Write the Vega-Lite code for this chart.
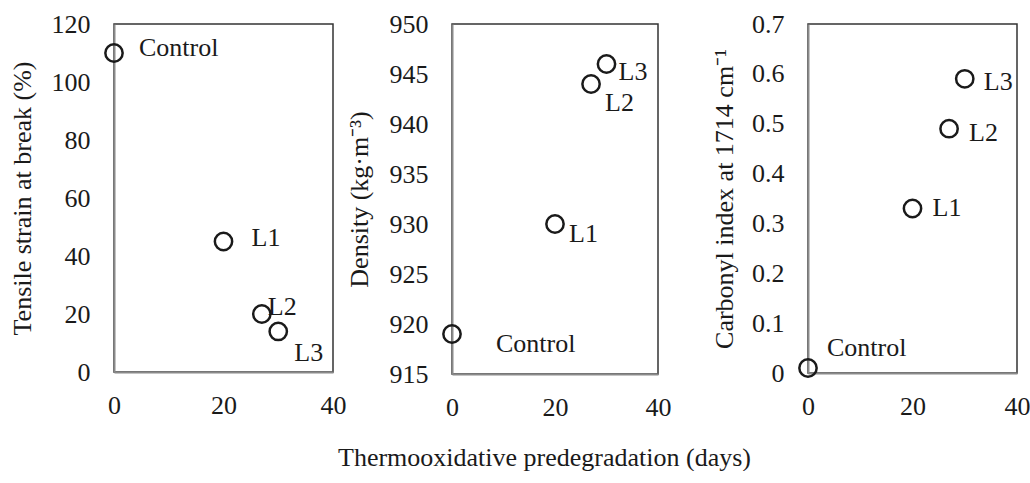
{
  "$schema": "https://vega.github.io/schema/vega-lite/v6.json",
  "padding": {"left": 8, "top": 10, "right": 0, "bottom": 0},
  "background": "white",
  "datasets": {
    "pts": [
      {"panel": "A", "label": "Control", "days": 0, "value": 110},
      {"panel": "A", "label": "L1", "days": 20, "value": 45},
      {"panel": "A", "label": "L2", "days": 27, "value": 20},
      {"panel": "A", "label": "L3", "days": 30, "value": 14},
      {"panel": "B", "label": "Control", "days": 0, "value": 919},
      {"panel": "B", "label": "L1", "days": 20, "value": 930},
      {"panel": "B", "label": "L2", "days": 27, "value": 944},
      {"panel": "B", "label": "L3", "days": 30, "value": 946},
      {"panel": "C", "label": "Control", "days": 0, "value": 0.01},
      {"panel": "C", "label": "L1", "days": 20, "value": 0.33},
      {"panel": "C", "label": "L2", "days": 27, "value": 0.49},
      {"panel": "C", "label": "L3", "days": 30, "value": 0.59}
    ],
    "one": [{"k": 1}]
  },
  "title": {
    "text": "Thermooxidative predegradation (days)",
    "orient": "bottom",
    "anchor": "middle",
    "font": "Liberation Serif",
    "fontSize": 26,
    "fontWeight": "normal",
    "color": "#1a1a1a",
    "offset": 24,
    "dx": 25
  },
  "spacing": -2,
  "hconcat": [
    {
      "width": 219,
      "height": 348,
      "data": {"name": "pts"},
      "transform": [{"filter": "datum.panel === 'A'"}],
      "encoding": {
        "x": {"field": "days", "type": "quantitative", "scale": {"domain": [0, 40]}, "axis": {"title": null, "values": [0, 20, 40], "labelPadding": 20, "labelFlush": false, "labelFont": "Liberation Serif", "labelFontSize": 26}},
        "y": {"field": "value", "type": "quantitative", "scale": {"domain": [0, 120]}, "axis": {"title": "Tensile strain at break (%)", "titlePadding": 16, "values": [0, 20, 40, 60, 80, 100, 120], "labelFont": "Liberation Serif", "titleFont": "Liberation Serif", "labelFontSize": 26, "titleFontSize": 26}}
      },
      "layer": [
        {"mark": {"type": "point", "shape": "circle", "size": 300, "strokeWidth": 2.5, "color": "#1a1a1a", "filled": false, "opacity": 1}},
        {"transform": [{"filter": "datum.label === 'Control'"}], "mark": {"type": "text", "font": "Liberation Serif", "fontSize": 26, "color": "#1a1a1a", "align": "left", "baseline": "middle", "dx": 25, "dy": -5}, "encoding": {"text": {"field": "label"}}},
        {"transform": [{"filter": "datum.label === 'L1'"}], "mark": {"type": "text", "font": "Liberation Serif", "fontSize": 26, "color": "#1a1a1a", "align": "left", "baseline": "middle", "dx": 28, "dy": -4}, "encoding": {"text": {"field": "label"}}},
        {"transform": [{"filter": "datum.label === 'L2'"}], "mark": {"type": "text", "font": "Liberation Serif", "fontSize": 26, "color": "#1a1a1a", "align": "left", "baseline": "middle", "dx": 6, "dy": -7}, "encoding": {"text": {"field": "label"}}},
        {"transform": [{"filter": "datum.label === 'L3'"}], "mark": {"type": "text", "font": "Liberation Serif", "fontSize": 26, "color": "#1a1a1a", "align": "left", "baseline": "middle", "dx": 16, "dy": 22}, "encoding": {"text": {"field": "label"}}},
        {"data": {"name": "one"}, "transform": [], "mark": {"type": "text", "font": "Liberation Serif", "fontSize": 26, "color": "#1a1a1a", "text": "A", "align": "right", "baseline": "middle", "dx": -2, "dy": 23}, "encoding": {"x": {"datum": 40, "type": "quantitative"}, "y": {"datum": 120, "type": "quantitative"}}}
      ]
    },
    {
      "spacing": 38,
      "hconcat": [
        {
          "width": 206,
          "height": 350,
          "data": {"name": "pts"},
          "transform": [{"filter": "datum.panel === 'B'"}],
          "encoding": {
            "x": {"field": "days", "type": "quantitative", "scale": {"domain": [0, 40]}, "axis": {"title": null, "values": [0, 20, 40], "labelPadding": 20, "labelFlush": false, "labelFont": "Liberation Serif", "labelFontSize": 26}},
            "y": {"field": "value", "type": "quantitative", "scale": {"domain": [915, 950], "zero": false}, "axis": {"title": "Density (kg·m⁻³)", "titlePadding": 17, "values": [915, 920, 925, 930, 935, 940, 945, 950], "labelFont": "Liberation Serif", "titleFont": "Liberation Serif", "labelFontSize": 26, "titleFontSize": 26}}
          },
          "layer": [
            {"mark": {"type": "point", "shape": "circle", "size": 300, "strokeWidth": 2.5, "color": "#1a1a1a", "filled": false, "opacity": 1}},
            {"transform": [{"filter": "datum.label === 'Control'"}], "mark": {"type": "text", "font": "Liberation Serif", "fontSize": 26, "color": "#1a1a1a", "align": "left", "baseline": "middle", "dx": 44, "dy": 10}, "encoding": {"text": {"field": "label"}}},
            {"transform": [{"filter": "datum.label === 'L1'"}], "mark": {"type": "text", "font": "Liberation Serif", "fontSize": 26, "color": "#1a1a1a", "align": "left", "baseline": "middle", "dx": 14, "dy": 10}, "encoding": {"text": {"field": "label"}}},
            {"transform": [{"filter": "datum.label === 'L2'"}], "mark": {"type": "text", "font": "Liberation Serif", "fontSize": 26, "color": "#1a1a1a", "align": "left", "baseline": "middle", "dx": 14, "dy": 19}, "encoding": {"text": {"field": "label"}}},
            {"transform": [{"filter": "datum.label === 'L3'"}], "mark": {"type": "text", "font": "Liberation Serif", "fontSize": 26, "color": "#1a1a1a", "align": "left", "baseline": "middle", "dx": 12, "dy": 8}, "encoding": {"text": {"field": "label"}}},
            {"data": {"name": "one"}, "transform": [], "mark": {"type": "text", "font": "Liberation Serif", "fontSize": 26, "color": "#1a1a1a", "text": "B", "align": "right", "baseline": "middle", "dx": -6, "dy": 24}, "encoding": {"x": {"datum": 40, "type": "quantitative"}, "y": {"datum": 950, "type": "quantitative"}}}
          ]
        },
        {
          "width": 209,
          "height": 349,
          "data": {"name": "pts"},
          "transform": [{"filter": "datum.panel === 'C'"}],
          "encoding": {
            "x": {"field": "days", "type": "quantitative", "scale": {"domain": [0, 40]}, "axis": {"title": null, "values": [0, 20, 40], "labelPadding": 20, "labelFlush": false, "labelFont": "Liberation Serif", "labelFontSize": 26}},
            "y": {"field": "value", "type": "quantitative", "scale": {"domain": [0, 0.7]}, "axis": {"title": "Carbonyl index at 1714 cm⁻¹", "titlePadding": 14, "values": [0, 0.1, 0.2, 0.3, 0.4, 0.5, 0.6, 0.7], "format": "~g", "labelFont": "Liberation Serif", "titleFont": "Liberation Serif", "labelFontSize": 26, "titleFontSize": 26}}
          },
          "layer": [
            {"mark": {"type": "point", "shape": "circle", "size": 300, "strokeWidth": 2.5, "color": "#1a1a1a", "filled": false, "opacity": 1}},
            {"transform": [{"filter": "datum.label === 'Control'"}], "mark": {"type": "text", "font": "Liberation Serif", "fontSize": 26, "color": "#1a1a1a", "align": "left", "baseline": "middle", "dx": 19, "dy": -20}, "encoding": {"text": {"field": "label"}}},
            {"transform": [{"filter": "datum.label === 'L1'"}], "mark": {"type": "text", "font": "Liberation Serif", "fontSize": 26, "color": "#1a1a1a", "align": "left", "baseline": "middle", "dx": 20, "dy": 0}, "encoding": {"text": {"field": "label"}}},
            {"transform": [{"filter": "datum.label === 'L2'"}], "mark": {"type": "text", "font": "Liberation Serif", "fontSize": 26, "color": "#1a1a1a", "align": "left", "baseline": "middle", "dx": 20, "dy": 4}, "encoding": {"text": {"field": "label"}}},
            {"transform": [{"filter": "datum.label === 'L3'"}], "mark": {"type": "text", "font": "Liberation Serif", "fontSize": 26, "color": "#1a1a1a", "align": "left", "baseline": "middle", "dx": 19, "dy": 3}, "encoding": {"text": {"field": "label"}}},
            {"data": {"name": "one"}, "transform": [], "mark": {"type": "text", "font": "Liberation Serif", "fontSize": 26, "color": "#1a1a1a", "text": "C", "align": "right", "baseline": "middle", "dx": -5, "dy": 24}, "encoding": {"x": {"datum": 40, "type": "quantitative"}, "y": {"datum": 0.7, "type": "quantitative"}}}
          ]
        }
      ]
    }
  ],
  "config": {
    "font": "Liberation Serif",
    "view": {"stroke": "#333333", "strokeWidth": 1.5},
    "axis": {
      "ticks": false,
      "grid": false,
      "domainColor": "#8a8a8a",
      "domainWidth": 2,
      "labelColor": "#1a1a1a",
      "labelPadding": 24,
      "titleFontWeight": "normal",
      "titleColor": "#1a1a1a",
      "titlePadding": 10
    }
  }
}
